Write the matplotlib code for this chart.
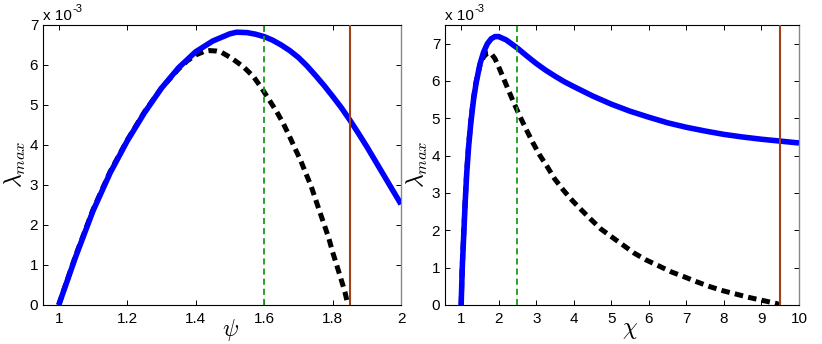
import matplotlib
matplotlib.use("Agg")
import matplotlib.pyplot as plt

plt.rcParams['font.family'] = ['Liberation Sans', 'DejaVu Sans']
plt.rcParams['mathtext.fontset'] = 'cm'

# Left panel data (psi, lambda_max in units of 1e-3)
psi_blue = [1.00, 1.05, 1.10, 1.15, 1.20, 1.25, 1.30, 1.35, 1.40, 1.45, 1.50, 1.52,
            1.55, 1.575, 1.60, 1.625, 1.65, 1.675, 1.70, 1.725, 1.75, 1.775, 1.80,
            1.825, 1.85, 1.875, 1.90, 1.925, 1.95, 1.975, 2.00]
lam_blue_psi = [0.0, 1.22, 2.35, 3.3, 4.1, 4.8, 5.42, 5.93, 6.33, 6.6, 6.78, 6.82,
                6.81, 6.77, 6.71, 6.62, 6.5, 6.36, 6.19, 5.98, 5.74, 5.49, 5.22,
                4.94, 4.63, 4.3, 3.96, 3.6, 3.24, 2.88, 2.52]
psi_black = [1.00, 1.05, 1.10, 1.15, 1.20, 1.25, 1.30, 1.35, 1.375, 1.40, 1.425, 1.44,
             1.46, 1.475, 1.505, 1.539, 1.569, 1.593, 1.615, 1.637, 1.656, 1.674, 1.69,
             1.707, 1.722, 1.737, 1.75, 1.763, 1.776, 1.789, 1.80, 1.812, 1.824, 1.836,
             1.845]
lam_black_psi = [0.0, 1.25, 2.38, 3.33, 4.12, 4.82, 5.42, 5.9, 6.1, 6.25, 6.34, 6.36,
                 6.35, 6.32, 6.17, 5.96, 5.71, 5.42, 5.125, 4.83, 4.54, 4.22, 3.92,
                 3.61, 3.29, 2.98, 2.65, 2.32, 2.0, 1.67, 1.33, 1.0, 0.67, 0.33,
                 0.0]
psi_green = 1.6
psi_brown = 1.85

# Right panel data (chi, lambda_max in units of 1e-3)
chi_blue = [1.00, 1.03, 1.07, 1.11, 1.15, 1.20, 1.26, 1.33, 1.40, 1.50, 1.60, 1.70,
            1.80, 1.90, 2.00, 2.20, 2.50, 2.75, 3.00, 3.25, 3.50, 3.75, 4.00, 4.50,
            5.00, 5.50, 6.00, 6.50, 7.00, 7.50, 8.00, 8.50, 9.00, 9.50, 10.00]
lam_blue_chi = [0.0, 1.0, 1.9, 2.8, 3.55, 4.25, 4.9, 5.5, 5.95, 6.45, 6.78, 7.0,
                7.13, 7.19, 7.19, 7.1, 6.88, 6.67, 6.47, 6.29, 6.13, 5.98, 5.85, 5.6,
                5.38, 5.19, 5.03, 4.88, 4.76, 4.66, 4.57, 4.5, 4.44, 4.39, 4.34]
chi_black = [1.00, 1.03, 1.07, 1.11, 1.15, 1.20, 1.26, 1.33, 1.40, 1.50, 1.60, 1.70,
             1.78, 1.90, 2.00, 2.20, 2.40, 2.50, 2.60, 2.76, 2.92, 3.09, 3.29, 3.49,
             3.72, 3.96, 4.20, 4.47, 4.73, 5.03, 5.32, 5.61, 5.92, 6.26, 6.59, 6.93,
             7.28, 7.63, 7.98, 8.33, 8.68, 9.04, 9.40, 9.50]
lam_black_chi = [0.0, 1.05, 1.95, 2.85, 3.6, 4.3, 4.95, 5.55, 5.98, 6.42, 6.65, 6.75,
                 6.76, 6.6, 6.38, 5.9, 5.42, 5.2, 4.98, 4.65, 4.33, 4.02, 3.71, 3.38,
                 3.08, 2.8, 2.55, 2.28, 2.03, 1.81, 1.6, 1.39, 1.21, 1.05, 0.89, 0.76,
                 0.62, 0.49, 0.38, 0.29, 0.2, 0.12, 0.04, 0.0]
chi_green = 2.5
chi_brown = 9.5

BLUE = '#0000ff'
GREEN = '#1a9a1a'
BROWN = '#a0401a'

fig = plt.figure(figsize=(8.22, 3.44), dpi=100)
ax1 = fig.add_axes([43/822, 1-305/344, (401-43)/822, (305-25)/344])
ax2 = fig.add_axes([445/822, 1-305/344, (799-445)/822, (305-25)/344])


def style(ax):
    ax.tick_params(direction='in', top=True, right=True, length=3.5, width=0.7,
                   labelsize=11)
    ax.tick_params(axis='x', pad=5)
    ax.tick_params(axis='y', pad=3.5)
    for s in ['left', 'bottom', 'top']:
        ax.spines[s].set_linewidth(0.8)
    ax.spines['right'].set_color('#888888')
    ax.spines['right'].set_linewidth(1.0)


def scale_note(ax):
    ax.text(0.0, 1.018, 'x 10', transform=ax.transAxes, fontsize=11,
            ha='left', va='baseline')
    ax.annotate('-3', xy=(0.0, 1.018), xycoords='axes fraction',
                xytext=(21, 5.5), textcoords='offset points', fontsize=8,
                ha='left', va='baseline')


def draw(ax, xb, yb, xk, yk, xg, xr):
    ax.plot(xk, yk, color='black', lw=3.6, ls=(0, (1.7, 1.05)), zorder=2)
    ax.plot(xb, yb, color=BLUE, lw=4.0, zorder=3, solid_capstyle='butt',
            solid_joinstyle='round')
    ax.axvline(xg, color=GREEN, lw=1.3, ls=(0, (3.4, 2.2)), zorder=4)
    ax.axvline(xr, color=BROWN, lw=1.5, zorder=4)


# Left
draw(ax1, psi_blue, lam_blue_psi, psi_black, lam_black_psi, psi_green, psi_brown)
ax1.set_xlim(0.954, 2.0)
ax1.set_ylim(0, 7)
ax1.set_xticks([1, 1.2, 1.4, 1.6, 1.8, 2])
ax1.set_xticklabels(['1', '1.2', '1.4', '1.6', '1.8', '2'])
ax1.set_yticks(range(0, 8))
style(ax1)
ax1.set_xlabel(r'$\psi$', fontsize=17, va='center')
ax1.xaxis.set_label_coords(0.525, -0.088)
ax1.set_ylabel(r'$\lambda_{max}$', fontsize=17, va='center')
ax1.yaxis.set_label_coords(-0.078, 0.504)
scale_note(ax1)

# Right
draw(ax2, chi_blue, lam_blue_chi, chi_black, lam_black_chi, chi_green, chi_brown)
ax2.set_xlim(0.57, 10)
ax2.set_ylim(0, 7.5)
ax2.set_xticks(range(1, 11))
ax2.set_yticks(range(0, 8))
style(ax2)
ax2.set_xlabel(r'$\chi$', fontsize=17, va='center')
ax2.xaxis.set_label_coords(0.523, -0.088)
ax2.set_ylabel(r'$\lambda_{max}$', fontsize=17, va='center')
ax2.yaxis.set_label_coords(-0.079, 0.504)
scale_note(ax2)

fig.savefig('out.png', dpi=100)
